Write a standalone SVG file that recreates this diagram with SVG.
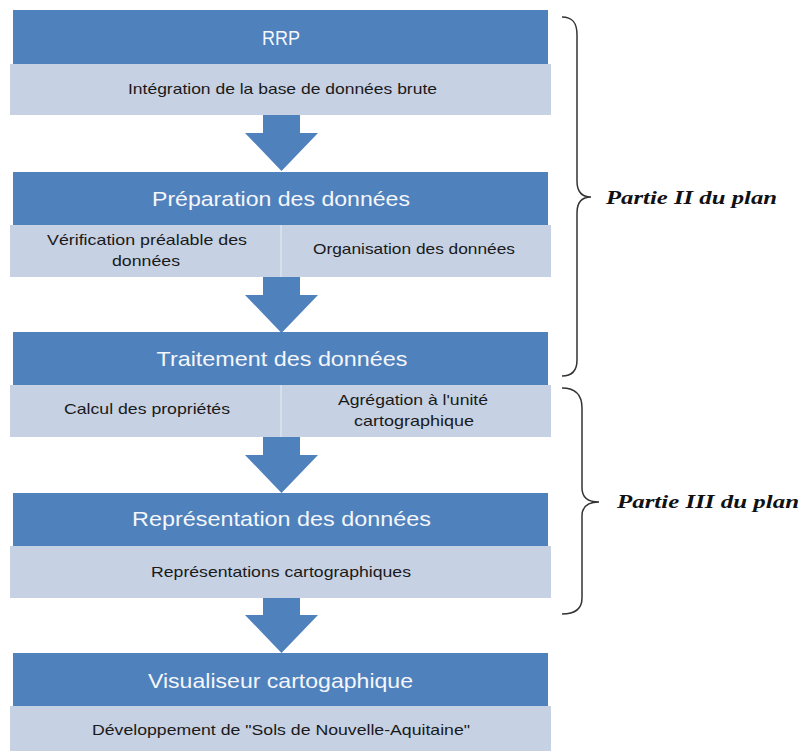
<svg xmlns="http://www.w3.org/2000/svg" xmlns:xlink="http://www.w3.org/1999/xlink" width="803" height="751" viewBox="0 0 803 751">
<style>
.hdr{fill:#4f81bd}
.sub{fill:#c6d1e4}
.div{stroke:#e2e8f2;stroke-width:1.2}
.ht{font-family:"Liberation Sans",Arial,sans-serif;font-size:21px;fill:#f4f6fa;text-anchor:middle}
.st{font-family:"Liberation Sans",Arial,sans-serif;font-size:14.5px;fill:#1a1a1a;text-anchor:middle}
.pt{font-family:"Liberation Serif","Times New Roman",serif;font-size:19px;font-weight:bold;font-style:italic;fill:#111}
.brace{fill:none;stroke:#333;stroke-width:1.5}
.arrow{fill:#4f81bd}
</style>
<defs>
<path id="arr" d="M263 0 H300 V18 H318 L281.5 56 L245 18 H263 Z"/>
</defs>
<rect width="803" height="751" fill="#ffffff"/>

<g id="connectors">
<use xlink:href="#arr" class="arrow" transform="translate(0,115)"/>
<use xlink:href="#arr" class="arrow" transform="translate(0,277)"/>
<use xlink:href="#arr" class="arrow" transform="translate(0,437)"/>
<use xlink:href="#arr" class="arrow" transform="translate(0,597)"/>
</g>

<g id="node-rrp">
<rect class="hdr" x="13" y="10" width="535" height="54"/>
<text class="ht" x="281" y="45" textLength="38" lengthAdjust="spacingAndGlyphs">RRP</text>
<rect class="sub" x="10" y="64" width="541" height="51"/>
<text class="st" x="282.5" y="94" textLength="309" lengthAdjust="spacingAndGlyphs">Intégration de la base de données brute</text>
</g>

<g id="node-preparation">
<rect class="hdr" x="13" y="172" width="535" height="53"/>
<text class="ht" x="281" y="206" textLength="258" lengthAdjust="spacingAndGlyphs">Préparation des données</text>
<rect class="sub" x="10" y="225" width="541" height="52"/>
<line class="div" x1="281" y1="225" x2="281" y2="277"/>
<text class="st" x="147" y="245" textLength="200" lengthAdjust="spacingAndGlyphs">Vérification préalable des</text>
<text class="st" x="146" y="266" textLength="68" lengthAdjust="spacingAndGlyphs">données</text>
<text class="st" x="414" y="254" textLength="202" lengthAdjust="spacingAndGlyphs">Organisation des données</text>
</g>

<g id="node-traitement">
<rect class="hdr" x="13" y="332" width="535" height="53"/>
<text class="ht" x="282" y="366" textLength="251" lengthAdjust="spacingAndGlyphs">Traitement des données</text>
<rect class="sub" x="10" y="385" width="541" height="52"/>
<line class="div" x1="281" y1="385" x2="281" y2="437"/>
<text class="st" x="147" y="414" textLength="166" lengthAdjust="spacingAndGlyphs">Calcul des propriétés</text>
<text class="st" x="413" y="405" textLength="150" lengthAdjust="spacingAndGlyphs">Agrégation à l'unité</text>
<text class="st" x="414" y="426" textLength="120" lengthAdjust="spacingAndGlyphs">cartographique</text>
</g>

<g id="node-representation">
<rect class="hdr" x="13" y="493" width="535" height="53"/>
<text class="ht" x="281.5" y="526" textLength="299" lengthAdjust="spacingAndGlyphs">Représentation des données</text>
<rect class="sub" x="10" y="546" width="541" height="52"/>
<text class="st" x="281" y="577" textLength="260" lengthAdjust="spacingAndGlyphs">Représentations cartographiques</text>
</g>

<g id="node-visualiseur">
<rect class="hdr" x="13" y="653" width="535" height="53"/>
<text class="ht" x="280.5" y="688" textLength="265" lengthAdjust="spacingAndGlyphs">Visualiseur cartogaphique</text>
<rect class="sub" x="10" y="706" width="541" height="45"/>
<text class="st" x="281" y="735" textLength="378" lengthAdjust="spacingAndGlyphs">Développement de "Sols de Nouvelle-Aquitaine"</text>
</g>

<g id="brace-partie-ii">
<path class="brace" d="M562 17 C572 17 577 22 577 35 V181 C577 192 582 197 591 197 C582 197 577 202 577 213 V360 C577 371 572 376 562 376"/>
<text class="pt" x="606" y="204" textLength="171" lengthAdjust="spacingAndGlyphs">Partie II du plan</text>
</g>

<g id="brace-partie-iii">
<path class="brace" d="M562 388 C575 388 582 394 582 408 V488 C582 498 588 502 599 502 C588 502 582 506 582 516 V598 C582 609 575 614 562 614"/>
<text class="pt" x="617" y="508" textLength="182" lengthAdjust="spacingAndGlyphs">Partie III du plan</text>
</g>
</svg>
